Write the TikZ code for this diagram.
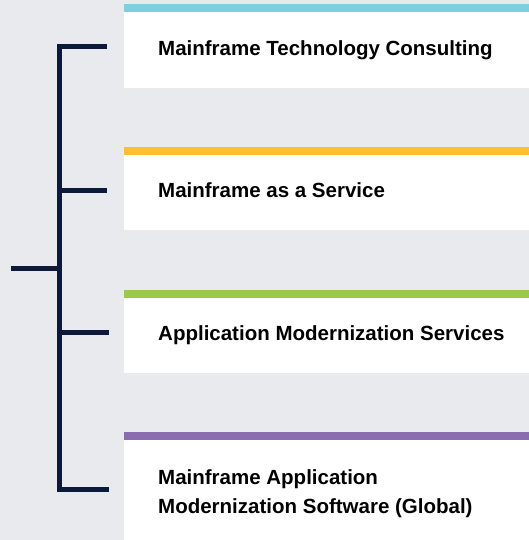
\documentclass[tikz,border=0pt]{standalone}
\usepackage{fontspec}
\setmainfont{Liberation Sans}
\definecolor{bg}{HTML}{E9EAEE}
\definecolor{navy}{HTML}{0B1A3B}
\definecolor{cCyan}{HTML}{7FCFE3}
\definecolor{cYellow}{HTML}{FBC02D}
\definecolor{cGreen}{HTML}{9BC94A}
\definecolor{cPurple}{HTML}{8A6DAF}
\tikzset{
  x=1pt,y=-1pt,
  lbl/.style={anchor=base west,inner sep=0pt,font=\fontsize{20.5}{29}\selectfont\bfseries,text=black,align=left},
  brk/.style={draw=navy,line width=5pt}
}
\begin{document}
\begin{tikzpicture}
\fill[bg] (0,0) rectangle (529,540);
\useasboundingbox (0,0) rectangle (529,540);
% cards
\fill[white] (124,4) rectangle (529,88);
\fill[cCyan] (124,4) rectangle (529,12.5);
\fill[white] (124,147) rectangle (529,230);
\fill[cYellow] (124,147) rectangle (529,155);
\fill[white] (124,290) rectangle (529,373);
\fill[cGreen] (124,290) rectangle (529,297.5);
\fill[white] (124,432) rectangle (529,540);
\fill[cPurple] (124,432) rectangle (529,440);
% labels
\node[lbl] (t1) at (158,56) {Mainframe Technology Consulting};
\node[lbl] (t2) at (158,197) {Mainframe as a Service};
\node[lbl] (t3) at (158,340) {Application Modernization Services};
\node[lbl] (t4) at (158,513) {Mainframe Application\\Modernization Software (Global)};
% bracket
\coordinate (top) at (59,47);
\coordinate (bot) at (59,489);
\coordinate (e1) at (107,47);
\coordinate (j2) at (59,190);
\coordinate (e2) at (107,190);
\coordinate (j3) at (59,332);
\coordinate (e3) at (109,332);
\coordinate (e4) at (109,489);
\coordinate (root) at (11,268);
\coordinate (jr) at (59,268);
\draw[brk] (e1) -- (top) -- (bot) -- (e4);
\draw[brk] (j2) -- (e2);
\draw[brk] (j3) -- (e3);
\draw[brk] (root) -- (jr);
\end{tikzpicture}
\end{document}
